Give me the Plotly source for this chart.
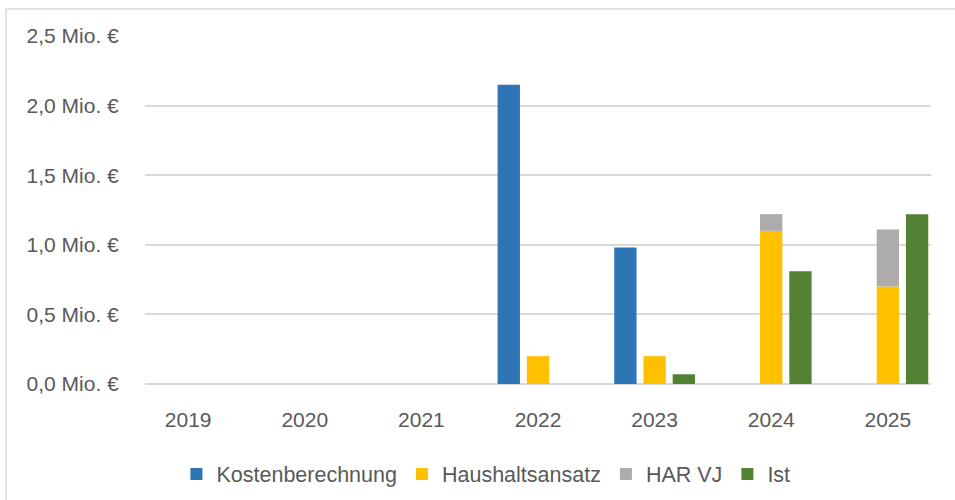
import plotly.graph_objects as go

# ---- data (Mio. €) ----
years = ["2019", "2020", "2021", "2022", "2023", "2024", "2025"]
kostenberechnung = [0, 0, 0, 2.15, 0.98, 0, 0]
haushaltsansatz = [0, 0, 0, 0.20, 0.20, 1.10, 0.70]
har_vj = [0, 0, 0, 0, 0, 0.12, 0.41]
ist = [0, 0, 0, 0, 0.07, 0.81, 1.22]

y_tick_values = [0, 0.5, 1.0, 1.5, 2.0, 2.5]
y_tick_labels = ["0,0 Mio. €", "0,5 Mio. €", "1,0 Mio. €", "1,5 Mio. €", "2,0 Mio. €", "2,5 Mio. €"]

series_names = ["Kostenberechnung", "Haushaltsansatz", "HAR VJ", "Ist"]
colors = ["#2E75B6", "#FFC000", "#AEABAB", "#548235"]

FONT = "Liberation Sans, Arial, sans-serif"
TXT = "#595959"

fig = go.Figure()
fig.add_trace(go.Bar(x=years, y=kostenberechnung, name=series_names[0],
                     marker=dict(color=colors[0], line=dict(width=0)), offsetgroup="a"))
fig.add_trace(go.Bar(x=years, y=haushaltsansatz, name=series_names[1],
                     marker=dict(color=colors[1], line=dict(width=0)), offsetgroup="b"))
fig.add_trace(go.Bar(x=years, y=har_vj, base=haushaltsansatz, name=series_names[2],
                     marker=dict(color=colors[2], line=dict(width=0)), offsetgroup="b"))
fig.add_trace(go.Bar(x=years, y=ist, name=series_names[3],
                     marker=dict(color=colors[3], line=dict(width=0)), offsetgroup="c"))

fig.update_layout(
    width=955, height=500, autosize=False,
    margin=dict(l=145, r=24, t=36, b=116, autoexpand=False),
    paper_bgcolor="white", plot_bgcolor="white",
    barmode="group", bargap=0.248, bargroupgap=0.236,
    font=dict(family=FONT, color=TXT, size=20),
    showlegend=True,
    legend=dict(orientation="h", x=0.04, xanchor="left", y=-0.2, yanchor="top",
                font=dict(family=FONT, color=TXT, size=21.5), traceorder="normal",
                itemwidth=30, bgcolor="rgba(0,0,0,0)"),
    xaxis=dict(type="category", range=[-0.37, 6.37], showgrid=False, showline=False,
               zeroline=False, ticks="outside", ticklen=17, tickcolor="rgba(0,0,0,0)",
               tickfont=dict(family=FONT, color=TXT, size=21), fixedrange=True),
    yaxis=dict(range=[0, 2.5], tickvals=y_tick_values, ticktext=y_tick_labels,
               showgrid=True, gridcolor="#D9D9D9", gridwidth=1.5,
               zeroline=True, zerolinecolor="#D9D9D9", zerolinewidth=1.5,
               showline=False, ticks="outside", ticklen=21, tickcolor="rgba(0,0,0,0)",
               tickfont=dict(family=FONT, color=TXT, size=21), fixedrange=True),
)

# chart-area frame
fig.add_shape(type="rect", xref="paper", yref="paper",
              x0=-0.1768, x1=1.2, y0=-0.6, y1=1.0775,
              line=dict(color="#D9D9D9", width=1.5), fillcolor="rgba(0,0,0,0)", layer="below")

fig.write_html("out.html", config={"displayModeBar": False},
               post_script="document.body.style.margin='0';")
